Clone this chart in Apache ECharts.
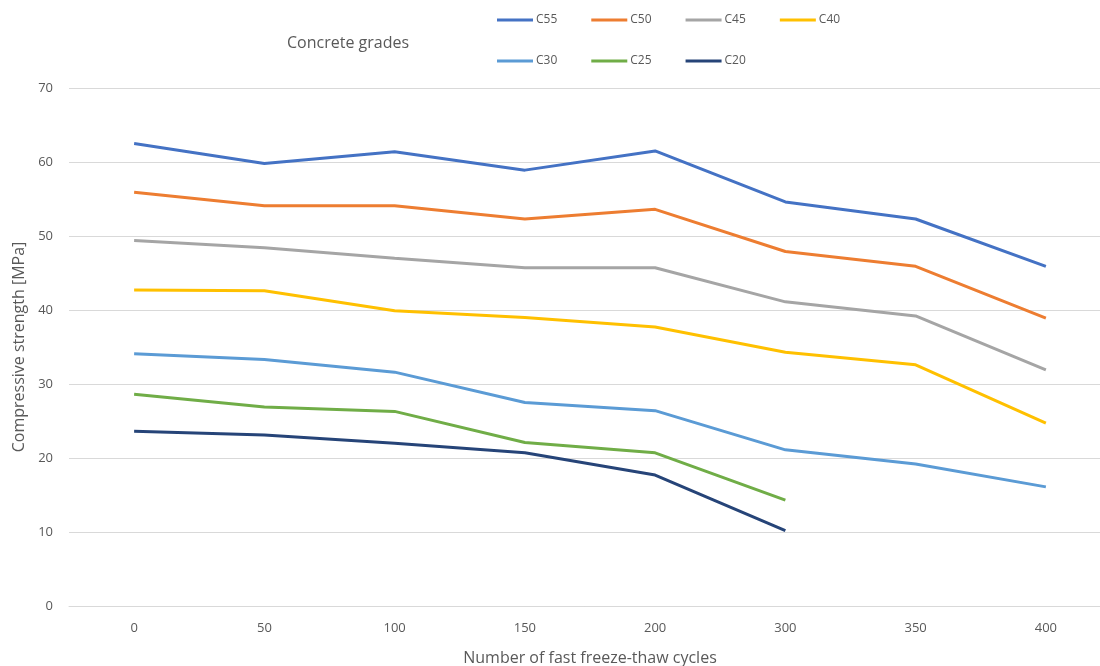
<!DOCTYPE html>
<html><head><meta charset="utf-8">
<script src="https://cdn.jsdelivr.net/npm/echarts@6/dist/echarts.min.js"></script>
<style>html,body{margin:0;padding:0;background:#fff}#c{width:1100px;height:666px}</style>
</head><body><div id="c"></div>
<script>
const categories = ['0','50','100','150','200','300','350','400'];
const seriesNames = ['C55','C50','C45','C40','C30','C25','C20'];
const C55 = [62.5, 59.8, 61.4, 58.9, 61.5, 54.6, 52.3, 45.9];
const C50 = [55.9, 54.1, 54.1, 52.3, 53.6, 47.9, 45.9, 38.9];
const C45 = [49.4, 48.4, 47.0, 45.7, 45.7, 41.1, 39.2, 31.9];
const C40 = [42.7, 42.6, 39.9, 39.0, 37.7, 34.3, 32.6, 24.7];
const C30 = [34.1, 33.3, 31.6, 27.5, 26.4, 21.1, 19.2, 16.1];
const C25 = [28.6, 26.9, 26.3, 22.1, 20.7, 14.3];
const C20 = [23.6, 23.1, 22.0, 20.7, 17.7, 10.2];
const colors = ['#4472C4','#ED7D31','#A5A5A5','#FFC000','#5B9BD5','#70AD47','#264478'];
const values = [C55, C50, C45, C40, C30, C25, C20];
const font = 'Open Sans, Liberation Sans, sans-serif';
const chart = echarts.init(document.getElementById('c'));
const legendBase = {
  icon: 'rect', itemWidth: 36, itemHeight: 3, itemGap: 34,
  textStyle: {color: '#595959', fontSize: 12, fontFamily: font, padding: [0,0,0,-2]}
};
chart.setOption({
  animation: false,
  color: colors,
  title: {text: 'Concrete grades', left: 282, top: 30,
    textStyle: {color: '#595959', fontSize: 16, fontWeight: 'normal', fontFamily: font}},
  legend: [
    Object.assign({data: seriesNames.slice(0,4), left: 492, top: 9}, legendBase),
    Object.assign({data: seriesNames.slice(4), left: 492, top: 50}, legendBase)
  ],
  grid: {left: 69, top: 88, width: 1042, height: 518, outerBoundsMode: 'none', containLabel: false},
  xAxis: {
    type: 'category', data: categories, boundaryGap: true,
    name: 'Number of fast freeze-thaw cycles', nameLocation: 'middle', nameGap: 44,
    nameTextStyle: {color: '#595959', fontSize: 16, fontFamily: font},
    axisLine: {lineStyle: {color: '#d9d9d9'}}, axisTick: {show: false},
    axisLabel: {color: '#595959', fontSize: 13, fontFamily: font, margin: 16}
  },
  yAxis: {
    type: 'value', min: 0, max: 70, interval: 10,
    name: 'Compressive strength [MPa]', nameLocation: 'middle', nameGap: 42,
    nameTextStyle: {color: '#595959', fontSize: 16, fontFamily: font},
    axisLine: {show: false}, axisTick: {show: false},
    axisLabel: {color: '#595959', fontSize: 13, fontFamily: font, margin: 16},
    splitLine: {lineStyle: {color: '#d9d9d9'}}
  },
  series: seriesNames.map((n, i) => ({
    name: n, type: 'line', data: values[i], symbol: 'none',
    lineStyle: {width: 3, color: colors[i]}, itemStyle: {color: colors[i]}
  }))
});
</script></body></html>
